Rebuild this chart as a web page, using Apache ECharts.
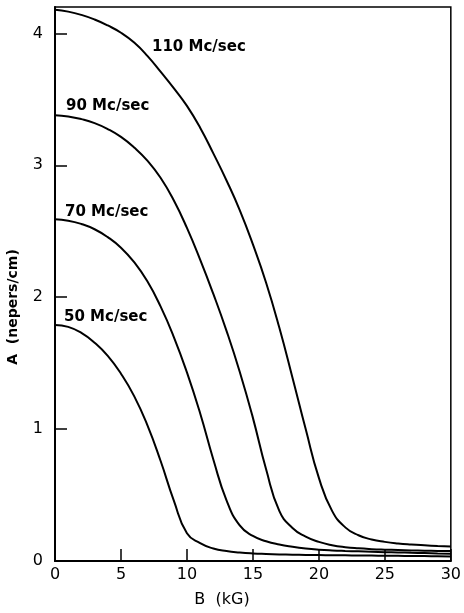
<!DOCTYPE html>
<html>
<head>
<meta charset="utf-8">
<script src="https://cdn.jsdelivr.net/npm/echarts@6/dist/echarts.min.js"></script>
<style>
html,body{margin:0;padding:0;background:#fff;}
#c{width:464px;height:613px;}
</style>
</head>
<body>
<div id="c"></div>
<script>
// Magnetic field B (kG), read every 1 kG
const bValues = [0,1,2,3,4,5,6,7,8,9,10,11,12,13,14,15,16,17,18,19,20,21,22,23,24,25,26,27,28,29,30];
// Attenuation A (nepers/cm)
const a50  = [1.79,1.775,1.73,1.655,1.555,1.42,1.25,1.03,0.76,0.46,0.21,0.135,0.095,0.075,0.064,0.057,0.053,0.050,0.048,0.046,0.045,0.044,0.043,0.042,0.041,0.040,0.039,0.038,0.037,0.036,0.035];
const a70  = [2.59,2.58,2.555,2.515,2.455,2.375,2.265,2.12,1.93,1.70,1.43,1.12,0.77,0.46,0.27,0.19,0.15,0.125,0.108,0.095,0.086,0.080,0.076,0.073,0.070,0.067,0.065,0.062,0.060,0.057,0.055];
const a90  = [3.38,3.37,3.35,3.32,3.275,3.215,3.135,3.035,2.905,2.735,2.525,2.285,2.025,1.745,1.435,1.085,0.695,0.38,0.25,0.185,0.145,0.12,0.105,0.096,0.090,0.086,0.083,0.080,0.078,0.076,0.075];
const a110 = [4.18,4.165,4.14,4.105,4.06,4.005,3.93,3.83,3.71,3.585,3.45,3.285,3.09,2.885,2.66,2.40,2.11,1.77,1.39,1.00,0.63,0.38,0.255,0.195,0.163,0.145,0.133,0.125,0.119,0.114,0.11];

const seriesNames = ['50 Mc/sec', '70 Mc/sec', '90 Mc/sec', '110 Mc/sec'];
const xTicks = [0, 5, 10, 15, 20, 25, 30];
const yTicks = [0, 1, 2, 3, 4];
const xTitle = 'B  (kG)';
const yTitle = 'A  (nepers/cm)';

function pairs(xs, ys) { return xs.map((x, i) => [x, ys[i]]); }

const FONT = 'DejaVu Sans';
const chart = echarts.init(document.getElementById('c'), null, {renderer: 'canvas'});

const lineSeries = [a50, a70, a90, a110].map((ys, i) => ({
  name: seriesNames[i],
  type: 'line',
  data: pairs(bValues, ys),
  smooth: 0.5,
  symbol: 'none',
  lineStyle: {color: '#000', width: 2},
  z: 3
}));

chart.setOption({
  animation: false,
  backgroundColor: '#fff',
  grid: {left: 55, right: 11, top: 7, bottom: 52, show: true, borderColor: '#000', borderWidth: 1.5, backgroundColor: 'transparent'},
  xAxis: {
    type: 'value', min: 0, max: 30, interval: 5,
    axisLine: {lineStyle: {color: '#000', width: 2}},
    axisTick: {inside: true, length: 12, lineStyle: {color: '#000', width: 1.5}},
    axisLabel: {color: '#000', fontFamily: FONT, fontSize: 16, margin: 6,
      formatter: v => xTicks.includes(v) ? String(v) : ''},
    splitLine: {show: false}
  },
  yAxis: {
    type: 'value', min: 0, max: 4.2, interval: 1,
    axisLine: {show: true, lineStyle: {color: '#000', width: 2}},
    axisTick: {show: true, inside: true, length: 12, lineStyle: {color: '#000', width: 1.5}},
    axisLabel: {color: '#000', fontFamily: FONT, fontSize: 16, margin: 12, showMaxLabel: false,
      formatter: v => yTicks.includes(v) ? String(v) : ''},
    splitLine: {show: false}
  },
  series: lineSeries,
  graphic: [
    {type: 'text', x: 152, y: 47, style: {text: seriesNames[3], font: 'bold 15px "DejaVu Sans"', fill: '#000', verticalAlign: 'middle'}},
    {type: 'text', x: 66, y: 106, style: {text: seriesNames[2], font: 'bold 15px "DejaVu Sans"', fill: '#000', verticalAlign: 'middle'}},
    {type: 'text', x: 65, y: 212, style: {text: seriesNames[1], font: 'bold 15px "DejaVu Sans"', fill: '#000', verticalAlign: 'middle'}},
    {type: 'text', x: 64, y: 317, style: {text: seriesNames[0], font: 'bold 15px "DejaVu Sans"', fill: '#000', verticalAlign: 'middle'}},
    {type: 'text', x: 222, y: 600, style: {text: xTitle, font: '16px "DejaVu Sans"', fill: '#000', align: 'center', verticalAlign: 'middle'}},
    {type: 'text', x: 13, y: 307, rotation: Math.PI / 2, style: {text: yTitle, font: 'bold 14px "DejaVu Sans"', fill: '#000', align: 'center', verticalAlign: 'middle'}}
  ]
});
</script>
</body>
</html>
